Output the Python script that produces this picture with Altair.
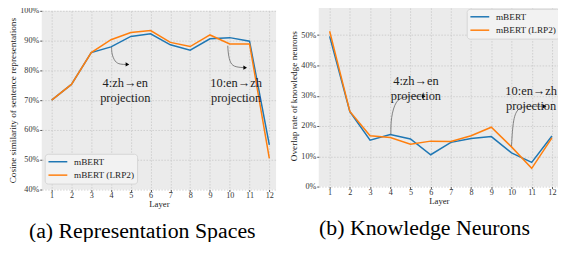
import altair as alt
import pandas as pd

layers = list(range(1, 13))
series_names = ["mBERT", "mBERT (LRP2)"]
colors = ["#1f77b4", "#ff7f0e"]

# (a) cosine similarity of sentence representations (%)
rep_mbert = [70.0, 75.3, 86.0, 87.9, 91.4, 92.3, 88.6, 86.8, 90.6, 91.0, 89.8, 55.0]
rep_lrp2 = [70.0, 75.3, 86.0, 90.3, 92.7, 93.4, 89.4, 88.0, 91.9, 88.9, 88.9, 50.5]

# (b) overlap rate of knowledge neurons (%)
kn_mbert = [49.6, 24.7, 15.3, 17.2, 15.7, 10.5, 14.6, 15.9, 16.5, 11.1, 8.0, 16.7]
kn_lrp2 = [51.3, 24.8, 16.8, 16.2, 14.0, 15.0, 14.9, 16.8, 19.6, 13.1, 6.0, 16.1]

rep_ticks = [40, 50, 60, 70, 80, 90, 100]
kn_ticks = [0, 10, 20, 30, 40, 50, 60]

# annotations (text anchors in data units)
ann_text = ["4:zh→en\nprojection", "10:en→zh\nprojection"]
rep_ann_x = [4.72, 10.32]
rep_ann_y = [75.8, 75.8]
kn_ann_x = [5.27, 10.97]
kn_ann_y = [34.7, 31.6]

# curved arrow paths (data units)
rep_arrow1_x = [4.03, 4.03, 4.2, 4.45, 4.83]
rep_arrow1_y = [87.8, 85.6, 82.8, 82.0, 82.0]
rep_arrow2_x = [9.9, 9.92, 10.03, 10.28, 10.78]
rep_arrow2_y = [88.3, 85.6, 82.2, 81.1, 80.9]
kn_arrow1_x = [4.03, 4.03, 4.27, 4.76, 5.66]
kn_arrow1_y = [17.2, 22.7, 28.7, 29.8, 29.8]
kn_arrow2_x = [10.0, 10.08, 10.33, 10.74, 11.64]
kn_arrow2_y = [13.4, 22.7, 26.0, 26.5, 26.5]

FONT = "Liberation Serif"


def series_df(a, b):
    return pd.DataFrame({
        "layer": layers * 2,
        "value": a + b,
        "series": [series_names[0]] * 12 + [series_names[1]] * 12,
    })


def arrows_df(paths):
    rows = []
    for k, (xs, ys) in enumerate(paths):
        for i, (x, y) in enumerate(zip(xs, ys)):
            rows.append({"id": k, "order": i, "layer": x, "value": y})
    return pd.DataFrame(rows)


def panel(df, xdom, ydom, yvals, ytitle, ann_df, arr_df, legend_xy, width, height, caption):
    x_enc = alt.X("layer:Q", scale=alt.Scale(domain=xdom, nice=False, zero=False),
                  axis=alt.Axis(values=layers, title="Layer", format="d", labelOverlap=False,
                                tickCount=12))
    y_enc = alt.Y("value:Q", scale=alt.Scale(domain=ydom, nice=False, zero=False),
                  axis=alt.Axis(values=yvals, title=ytitle, labelExpr="datum.value + '%'",
                                labelOverlap=False, tickCount=7))
    lines = alt.Chart(df).mark_line(strokeWidth=1.5).encode(
        x=x_enc, y=y_enc,
        color=alt.Color("series:N", scale=alt.Scale(domain=series_names, range=colors),
                        sort=series_names,
                        legend=alt.Legend(title=None, orient="none",
                                          legendX=legend_xy[0], legendY=legend_xy[1])),
    )
    arr = alt.Chart(arr_df).mark_line(color="#666666", strokeWidth=0.8, interpolate="basis").encode(
        x=x_enc, y=y_enc, detail="id:N", order="order:Q")
    heads = alt.Chart(arr_df).transform_filter("datum.order == 4").mark_point(
        shape="triangle-right", filled=True, color="black", size=18, opacity=1).encode(
        x=x_enc, y=y_enc)
    txt = alt.Chart(ann_df).mark_text(font=FONT, fontSize=12.5, color="#222222",
                                      lineBreak="\n", lineHeight=15, align="center",
                                      baseline="middle").encode(
        x=x_enc, y=y_enc, text="text:N")
    return alt.layer(lines, arr, heads, txt).properties(
        width=width, height=height,
        title=alt.TitleParams(caption, orient="bottom", fontSize=22, font=FONT,
                              fontWeight="normal", anchor="middle", frame="bounds",
                              offset=13, color="black"),
    )


rep_df = series_df(rep_mbert, rep_lrp2)
kn_df = series_df(kn_mbert, kn_lrp2)
rep_ann = pd.DataFrame({"layer": rep_ann_x, "value": rep_ann_y, "text": ann_text})
kn_ann = pd.DataFrame({"layer": kn_ann_x, "value": kn_ann_y, "text": ann_text})

left = panel(rep_df, [0.5, 12.34], [40, 100], rep_ticks,
             "Cosine similarity of sentence representations", rep_ann,
             arrows_df([(rep_arrow1_x, rep_arrow1_y), (rep_arrow2_x, rep_arrow2_y)]),
             (3, 150), 236, 180, "(a) Representation Spaces")
right = panel(kn_df, [0.46, 12.35], [0, 60], kn_ticks,
              "Overlap rate of knowledge neurons", kn_ann,
              arrows_df([(kn_arrow1_x, kn_arrow1_y), (kn_arrow2_x, kn_arrow2_y)]),
              (149, 4), 242, 183, "(b) Knowledge Neurons")

spacer = alt.Chart(pd.DataFrame({"a": [0]})).mark_point(opacity=0, size=0).encode(
    x=alt.value(0), y=alt.value(0)).properties(width=236, height=1)

left_col = alt.vconcat(spacer, left, spacing=0)

chart = alt.hconcat(left_col, right, spacing=13).resolve_legend(color="independent").resolve_scale(
    color="independent").properties(
    padding={"left": 0, "top": -9, "right": -2, "bottom": -1}
).configure_view(fill="#ebebeb", stroke=None).configure_axis(
    labelFont=FONT, labelFontSize=8.2, labelColor="#333333", labelOverlap=False,
    titleFont=FONT, titleFontWeight="normal", titleColor="#222222",
    domain=False, ticks=True, tickColor="#555555", tickSize=2,
    grid=True, gridColor="#c8c8c8", gridDash=[1.5, 1.5], gridWidth=0.8,
    labelPadding=1,
).configure_axisY(titlePadding=2.5, titleFontSize=9.3).configure_axisX(
    titlePadding=0.5, titleFontSize=8.8, labelAngle=0, labelPadding=0).configure_legend(
    fillColor="#f2f2f2", strokeColor="#d6d6d6", cornerRadius=3, padding=2.5,
    symbolType="M-2,0H2", symbolSize=90, symbolStrokeWidth=1.5,
    symbolOffset=5.25, labelOffset=10.75,
    labelFont=FONT, labelFontSize=9.3, labelColor="#222222", rowPadding=2.5,
)

chart.save("out.html", embed_options={"renderer": "svg", "actions": False})
